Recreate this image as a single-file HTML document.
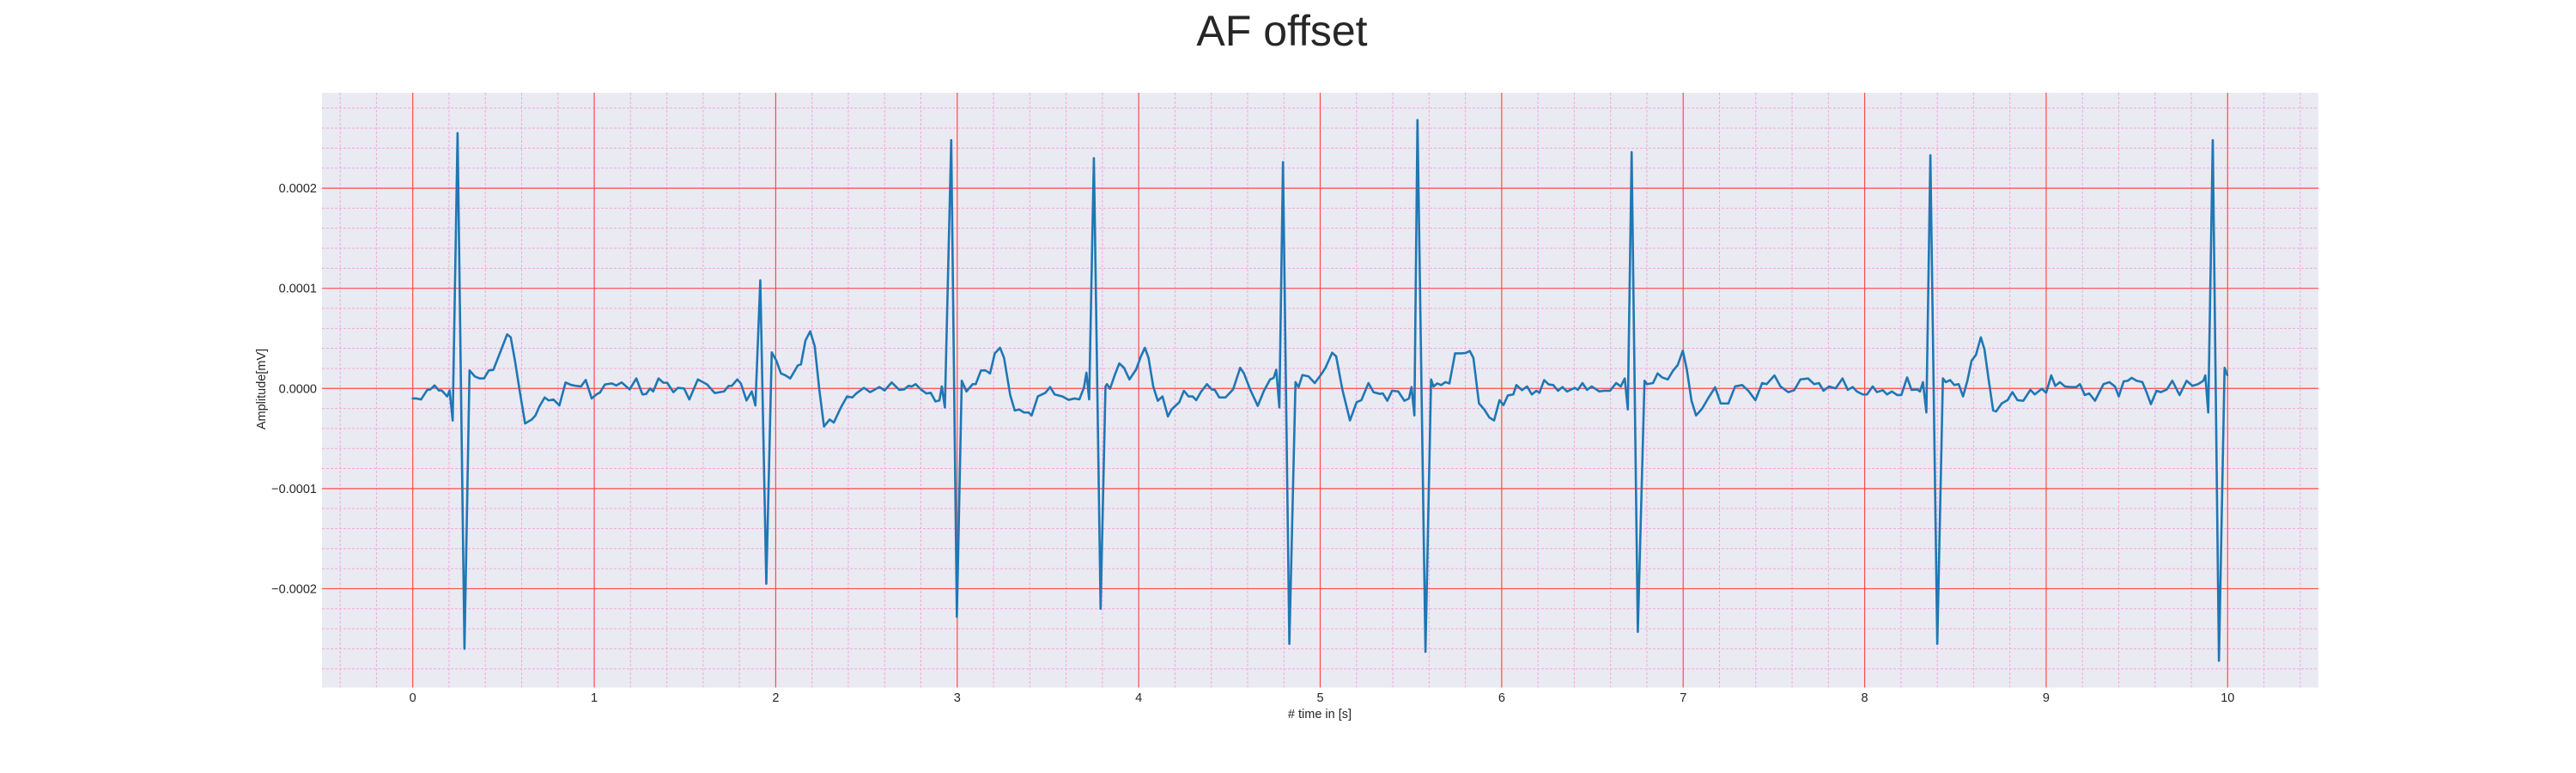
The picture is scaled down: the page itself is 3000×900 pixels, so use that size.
<!DOCTYPE html>
<html><head><meta charset="utf-8"><title>AF offset</title>
<style>
html,body{margin:0;padding:0;background:#fff;}
svg{display:block;font-family:"Liberation Sans",sans-serif;}
</style></head>
<body>
<svg id="chart" width="3000" height="900" viewBox="0 0 3000 900" xmlns="http://www.w3.org/2000/svg">
<rect x="0" y="0" width="3000" height="900" fill="#ffffff"/>
<text x="1493" y="53" font-size="50" fill="#262626" text-anchor="middle">AF offset</text>
<rect x="375" y="108" width="2325" height="692.5" fill="#eaeaf2"/>
<g id="minor-grid"></g>
<g id="major-grid"></g>
<g id="series"></g>
<g id="x-ticks"></g>
<g id="y-ticks"></g>
<text x="1537" y="836" font-size="14.5" fill="#262626" text-anchor="middle"># time in [s]</text>
<text x="0" y="0" font-size="14.5" fill="#262626" text-anchor="middle" transform="translate(309,453) rotate(-90)">Amplitude[mV]</text>
</svg>
<script>
const xTicks = [0,1,2,3,4,5,6,7,8,9,10];
const xTickLabels = ["0","1","2","3","4","5","6","7","8","9","10"];
const yTicks = [-0.0002,-0.0001,0,0.0001,0.0002];
const yTickLabels = ["\u22120.0002","\u22120.0001","0.0000","0.0001","0.0002"];
const UNIT = 1e-5;
// signal: time (s)
const sigT = [0,0.02,0.046,0.08,0.097,0.12,0.144,0.16,0.19,0.203,0.22,0.247,0.285,0.313,0.342,0.368,0.393,0.419,0.444,0.486,0.52,0.54,0.563,0.588,0.619,0.656,0.676,0.698,0.727,0.749,0.775,0.808,0.842,0.873,0.902,0.927,0.953,0.986,1.012,1.032,1.059,1.097,1.122,1.151,1.195,1.232,1.266,1.286,1.308,1.325,1.354,1.381,1.402,1.436,1.461,1.495,1.524,1.571,1.622,1.664,1.715,1.741,1.758,1.788,1.808,1.839,1.868,1.888,1.915,1.948,1.978,2.003,2.029,2.054,2.08,2.122,2.139,2.164,2.19,2.215,2.24,2.266,2.297,2.32,2.359,2.393,2.422,2.444,2.486,2.52,2.571,2.6,2.639,2.681,2.707,2.732,2.749,2.771,2.8,2.83,2.854,2.88,2.902,2.915,2.932,2.967,2.998,3.025,3.051,3.085,3.102,3.131,3.156,3.181,3.207,3.236,3.258,3.292,3.317,3.342,3.368,3.393,3.41,3.444,3.486,3.512,3.537,3.58,3.614,3.647,3.673,3.698,3.712,3.727,3.753,3.79,3.817,3.825,3.842,3.868,3.893,3.919,3.949,3.986,4.012,4.034,4.054,4.08,4.105,4.131,4.161,4.181,4.224,4.249,4.275,4.297,4.317,4.342,4.376,4.402,4.419,4.444,4.478,4.52,4.559,4.58,4.614,4.656,4.69,4.724,4.744,4.758,4.775,4.795,4.83,4.864,4.881,4.902,4.936,4.97,5.003,5.029,5.066,5.088,5.122,5.164,5.201,5.227,5.266,5.294,5.328,5.345,5.37,5.396,5.43,5.464,5.489,5.503,5.519,5.536,5.58,5.611,5.624,5.645,5.667,5.689,5.712,5.743,5.777,5.802,5.824,5.844,5.875,5.904,5.932,5.958,5.988,6.01,6.034,6.064,6.081,6.112,6.14,6.166,6.191,6.208,6.234,6.259,6.284,6.31,6.335,6.36,6.403,6.42,6.445,6.47,6.496,6.538,6.563,6.597,6.631,6.656,6.678,6.695,6.716,6.75,6.787,6.8,6.834,6.859,6.884,6.915,6.944,6.97,6.998,7.02,7.046,7.071,7.105,7.139,7.176,7.207,7.249,7.286,7.325,7.359,7.398,7.435,7.46,7.503,7.536,7.579,7.612,7.646,7.688,7.722,7.748,7.773,7.804,7.84,7.878,7.907,7.934,7.957,7.989,8.013,8.044,8.068,8.1,8.123,8.15,8.179,8.202,8.234,8.258,8.289,8.305,8.321,8.34,8.362,8.4,8.431,8.447,8.471,8.494,8.518,8.542,8.566,8.589,8.613,8.64,8.66,8.684,8.708,8.724,8.755,8.787,8.814,8.842,8.874,8.913,8.937,8.976,9.0,9.028,9.05,9.076,9.103,9.134,9.166,9.186,9.213,9.237,9.269,9.316,9.348,9.379,9.4,9.427,9.45,9.471,9.498,9.53,9.553,9.577,9.608,9.632,9.665,9.695,9.735,9.774,9.806,9.837,9.866,9.877,9.893,9.918,9.952,9.983,9.998];
// signal: amplitude in units of 1e-5 mV
const sigV = [-1.0,-1.0,-1.1,-0.14,-0.1,0.3,-0.2,-0.2,-0.8,-0.2,-3.2,25.5,-26.0,1.8,1.2,1.0,1.0,1.8,1.85,3.8,5.4,5.1,2.8,-0.1,-3.5,-3.1,-2.7,-1.8,-0.9,-1.2,-1.1,-1.7,0.6,0.35,0.25,0.2,0.85,-1.0,-0.6,-0.4,0.4,0.5,0.3,0.6,-0.1,1.0,-0.6,-0.55,0,-0.3,1.0,0.57,0.57,-0.37,0.06,0,-1.1,0.9,0.4,-0.46,-0.3,0.26,0.26,0.9,0.5,-1.2,-0.3,-1.7,10.8,-19.5,3.6,2.8,1.5,1.3,1.0,2.3,2.4,4.8,5.7,4.2,-0.1,-3.8,-3.1,-3.4,-1.9,-0.8,-0.9,-0.5,0.06,-0.37,0.14,-0.2,0.6,-0.14,-0.1,0.26,0.2,0.43,-0.1,-0.5,-0.43,-1.3,-1.2,0.2,-1.9,24.8,-22.8,0.77,-0.3,0.43,0.43,1.8,1.8,1.5,3.5,4.06,3.06,-0.66,-2.2,-2.1,-2.4,-2.4,-2.7,-0.8,-0.43,0.14,-0.6,-0.8,-1.14,-1.0,-1.09,0.06,1.57,-1.09,23.0,-22.0,0.2,0.43,-0.03,1.34,2.5,2.06,0.9,1.9,3.2,4.06,3.06,0.2,-1.23,-0.8,-2.8,-2.1,-1.37,-0.23,-0.8,-0.8,-1.17,-0.37,0.43,-0.1,-0.14,-0.9,-0.9,-0.1,2.06,1.5,-0.1,-1.74,-0.23,0.9,1.06,1.86,-1.9,22.6,-25.5,0.63,0.14,1.34,1.2,0.54,1.34,2.06,3.57,3.2,-0.1,-3.2,-1.37,-1.17,0.54,-0.37,-0.54,-0.5,-1.23,-0.23,-0.3,-1.23,-1.0,0.14,-2.7,26.8,-26.3,0.9,0.2,0.5,0.34,0.63,0.5,3.5,3.5,3.54,3.74,3.06,-1.5,-2.1,-2.9,-3.2,-1.17,-1.66,-0.7,-0.6,0.34,-0.17,0.2,-0.6,-0.23,-0.43,0.83,0.4,0.34,-0.23,0.14,-0.3,0.06,-0.14,0.54,-0.14,0.2,-0.3,-0.23,-0.23,0.54,0.2,1.0,-2.1,23.6,-24.3,0.77,0.43,0.54,1.5,1.1,0.9,1.77,2.34,3.77,1.9,-1.23,-2.7,-2.0,-0.94,0.11,-1.5,-1.5,0.2,0.34,-0.23,-1.17,0.54,0.43,1.3,0.2,-0.37,-0.17,0.9,1.0,0.43,0.54,-0.23,0.2,0,1.0,-0.14,0.14,-0.3,-0.6,-0.6,0.2,-0.37,-0.17,-0.6,-0.3,-0.66,-0.66,1.1,-0.14,-0.1,-0.3,0.63,-2.4,23.3,-25.5,1.0,0.63,0.83,0.34,0.43,-0.8,0.77,2.77,3.34,5.1,3.9,0.77,-2.2,-2.3,-1.5,-1.17,-0.37,-1.17,-1.23,-0.14,-0.6,-0.03,-0.43,1.3,0.26,0.63,0.2,0.14,0.14,0.43,-0.66,-0.5,-1.23,0.43,0.63,0.2,-0.8,0.71,0.77,1.06,0.77,0.63,-0.37,-1.57,-0.23,-0.37,-0.1,0.77,-0.66,0.77,0.26,0.43,0.77,1.3,-2.4,24.8,-27.2,2.06,1.34];

const NS = "http://www.w3.org/2000/svg";
const PL = 375, PR = 2700, PT = 108, PB = 800.5;
const X0 = -0.5, X1 = 10.5;
const Y0 = -0.0002987, Y1 = 0.0002953;
function xs(t){ return PL + (t - X0) / (X1 - X0) * (PR - PL); }
function ys(v){ return PB - (v - Y0) / (Y1 - Y0) * (PB - PT); }
function mk(tag, attrs, parent){
  const e = document.createElementNS(NS, tag);
  for (const k in attrs) e.setAttribute(k, attrs[k]);
  parent.appendChild(e);
  return e;
}
const minorG = document.getElementById('minor-grid');
const majorG = document.getElementById('major-grid');
const seriesG = document.getElementById('series');
const xTickG = document.getElementById('x-ticks');
const yTickG = document.getElementById('y-ticks');

for (let i = -2; i <= 52; i++) {
  const t = i * 0.2;
  if (i % 5 === 0) continue;
  const l = mk('line', {x1: xs(t), x2: xs(t), y1: PT, y2: PB, stroke: '#f4a6df', 'stroke-width': 1, 'stroke-dasharray': '3,2'}, minorG);
  
  
}
for (let i = -14; i <= 14; i++) {
  if (i % 5 === 0) continue;
  const v = i * 0.00002;
  const l = mk('line', {x1: PL, x2: PR, y1: ys(v), y2: ys(v), stroke: '#f4a6df', 'stroke-width': 1, 'stroke-dasharray': '3,2'}, minorG);
  
  
}
xTicks.forEach((t, i) => {
  const l = mk('line', {x1: xs(t), x2: xs(t), y1: PT, y2: PB, stroke: '#ff4a4a', 'stroke-width': 1.2}, majorG);
  
  
  const tx = mk('text', {x: xs(t), y: 817, 'font-size': 14.5, fill: '#262626', 'text-anchor': 'middle'}, xTickG);
  tx.textContent = xTickLabels[i];
  
  
});
yTicks.forEach((v, i) => {
  const l = mk('line', {x1: PL, x2: PR, y1: ys(v), y2: ys(v), stroke: '#ff4a4a', 'stroke-width': 1.2}, majorG);
  
  
  const tx = mk('text', {x: 369, y: ys(v) + 5, 'font-size': 14.5, fill: '#262626', 'text-anchor': 'end'}, yTickG);
  tx.textContent = yTickLabels[i];
  
  
});
let d = '';
for (let i = 0; i < sigT.length; i++) {
  d += (i ? 'L' : 'M') + xs(sigT[i]).toFixed(2) + ',' + ys(sigV[i] * UNIT).toFixed(2);
}
const p = mk('path', {d: d, fill: 'none', stroke: '#1f77b4', 'stroke-width': 2.6, 'stroke-linejoin': 'round', 'stroke-linecap': 'round'}, seriesG);


</script>
</body></html>
